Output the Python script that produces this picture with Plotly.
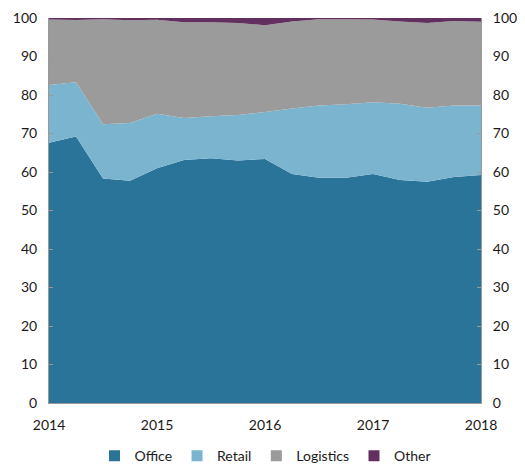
import plotly.graph_objects as go

quarters = [2014 + 0.25 * i for i in range(17)]
office = [67.6, 69.2, 58.3, 57.7, 61.0, 63.1, 63.6, 63.0, 63.4, 59.5, 58.5, 58.5, 59.5, 57.9, 57.5, 58.7, 59.2]
retail = [15.0, 14.1, 14.1, 15.0, 14.1, 10.9, 10.9, 11.8, 12.2, 17.0, 18.8, 19.1, 18.6, 19.8, 19.2, 18.6, 18.1]
other = [0.4, 0.5, 0.3, 0.6, 0.45, 1.1, 1.1, 1.3, 1.9, 0.9, 0.3, 0.3, 0.4, 0.9, 1.3, 0.8, 1.0]
logistics = [round(100 - o - r - t, 2) for o, r, t in zip(office, retail, other)]

series = [("Office", office, "#2A7399"), ("Retail", retail, "#7AB4CF"),
          ("Logistics", logistics, "#9B9B9B"), ("Other", other, "#62305F")]
year_ticks = [2014, 2015, 2016, 2017, 2018]
y_ticks = list(range(0, 101, 10))

fig = go.Figure()
for name, vals, col in series:
    fig.add_trace(go.Scatter(x=quarters, y=vals, name=name, stackgroup="one",
                             mode="none", fillcolor=col, line=dict(width=0),
                             showlegend=False))
# legend entries with square swatches
for name, vals, col in series:
    fig.add_trace(go.Scatter(x=[None], y=[None], name=name, mode="markers",
                             marker=dict(symbol="square", size=11, color=col)))
fig.add_trace(go.Scatter(x=[2014], y=[0], yaxis="y2", mode="markers",
                         marker=dict(opacity=0), showlegend=False, hoverinfo="skip"))

axis_font = dict(family="Lato, sans-serif", size=14, color="#1a1a1a")
yax = dict(range=[0, 100], tickvals=y_ticks, showgrid=False, zeroline=False,
           showline=True, linecolor="#999", linewidth=1, ticks="inside", ticklen=4,
           tickcolor="#999", automargin=False, ticklabelstandoff=8)
fig.update_layout(
    width=509, height=461,
    margin=dict(l=41, r=36, t=10, b=66, autoexpand=False),
    plot_bgcolor="white", paper_bgcolor="white",
    font=axis_font,
    xaxis=dict(range=[2014, 2018], tickvals=year_ticks, ticktext=[str(y) for y in year_ticks],
               showgrid=False, zeroline=False, showline=True, linecolor="#999", linewidth=1,
               ticks="", automargin=False, ticklabelstandoff=9),
    yaxis=yax,
    yaxis2=dict(yax, overlaying="y", side="right"),
    legend=dict(orientation="h", x=0.5, xanchor="center", y=-0.138, yanchor="middle",
                font=dict(family="Lato, sans-serif", size=14, color="#1a1a1a"),
                traceorder="normal", itemwidth=30),
    showlegend=True,
)

fig.write_html("out.html")
